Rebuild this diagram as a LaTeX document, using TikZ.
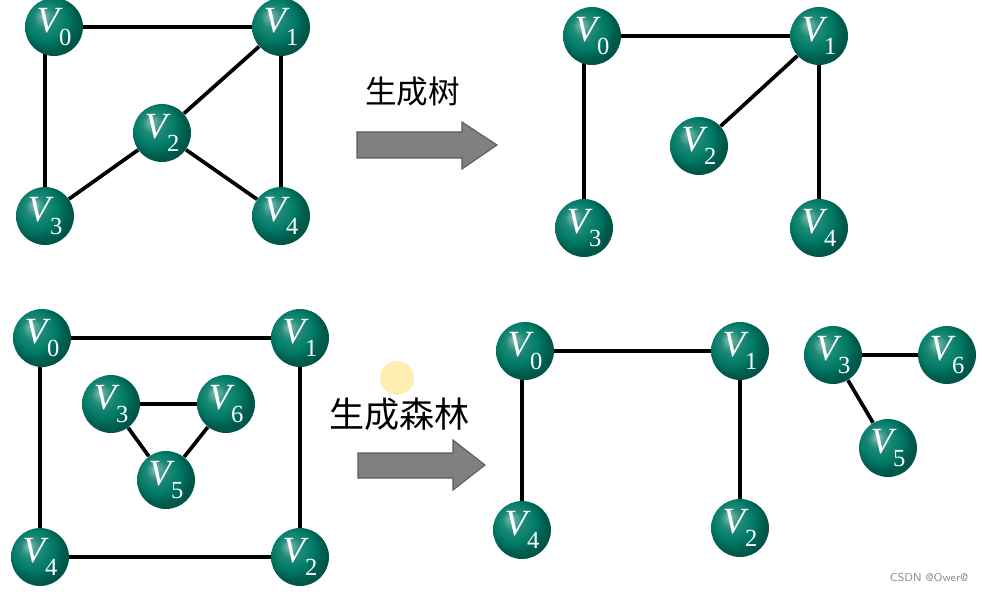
\documentclass[tikz,border=0pt]{standalone}
\usepackage{fontspec}
\setmainfont{Liberation Serif}
\newfontfamily\vfont{Liberation Serif}
\newfontfamily\cjk{Noto Sans CJK SC}
\usetikzlibrary{positioning}
\pgfdeclarelayer{bg}
\pgfsetlayers{bg,main}
\definecolor{vteal}{RGB}{0,122,102}
\definecolor{arrgray}{RGB}{128,128,128}
\pgfdeclareradialshading{vball}{\pgfpoint{-10bp}{10bp}}{%
  color(0bp)=(vteal!50!white); color(9bp)=(vteal!88!white);
  color(18bp)=(vteal); color(25bp)=(vteal!75!black); color(50bp)=(vteal!45!black)}
\newcommand{\vlab}[1]{{\vfont\fontsize{21}{21}\selectfont\itshape V}%
  \raisebox{-7.5pt}{\vfont\fontsize{14}{14}\selectfont #1}}

\begin{document}
\begin{tikzpicture}[
  x=0.02cm, y=-0.02cm,
  vtx/.style={circle, shading=vball, minimum size=1.16cm, inner sep=0pt,
              text=white},
  edge/.style={line width=2.1pt, black},
  bigarrow/.style={fill=arrgray, draw=arrgray!70!black, line width=0.6pt},
  lab/.style={font=\cjk, anchor=west},
]
  \useasboundingbox (0,0) rectangle (982,591);

  % graph -> spanning tree
  \node[vtx] (a0) at (54,27) {\vlab{0}};
  \node[vtx] (a1) at (281,27) {\vlab{1}};
  \node[vtx] (a2) at (162,133) {\vlab{2}};
  \node[vtx] (a3) at (45,216) {\vlab{3}};
  \node[vtx] (a4) at (281,216) {\vlab{4}};
  \begin{pgfonlayer}{bg}
    \draw[edge] (a0) -- (a1);
    \draw[edge] (a3) -- (a3 |- a0);
    \draw[edge] (a1) -- (a2);
    \draw[edge] (a1) -- (a4);
    \draw[edge] (a2) -- (a3);
    \draw[edge] (a2) -- (a4);
  \end{pgfonlayer}

  \node[lab, font=\cjk\fontsize{18}{18}\selectfont] (t1) at (359,92) {生成树};
  \draw[bigarrow] (357,132) -- (462,132) -- (462,122) -- (497,145)
    -- (462,169) -- (462,158) -- (357,158) -- cycle;

  \node[vtx] (b0) at (592,36) {\vlab{0}};
  \node[vtx] (b1) at (819,36) {\vlab{1}};
  \node[vtx] (b2) at (699,146) {\vlab{2}};
  \node[vtx] (b3) at (584,228) {\vlab{3}};
  \node[vtx] (b4) at (819,228) {\vlab{4}};
  \begin{pgfonlayer}{bg}
    \draw[edge] (b0) -- (b1);
    \draw[edge] (b3) -- (b3 |- b0);
    \draw[edge] (b1) -- (b2);
    \draw[edge] (b1) -- (b4);
  \end{pgfonlayer}

  % graph -> spanning forest
  \node[vtx] (c0) at (42,338) {\vlab{0}};
  \node[vtx] (c1) at (300,338) {\vlab{1}};
  \node[vtx] (c3) at (111,404) {\vlab{3}};
  \node[vtx] (c6) at (226,404) {\vlab{6}};
  \node[vtx] (c5) at (166,480) {\vlab{5}};
  \node[vtx] (c4) at (40,557) {\vlab{4}};
  \node[vtx] (c2) at (300,557) {\vlab{2}};
  \begin{pgfonlayer}{bg}
    \draw[edge] (c0) -- (c1);
    \draw[edge] (c4) -- (c4 |- c0);
    \draw[edge] (c1) -- (c2);
    \draw[edge] (c4) -- (c2);
    \draw[edge] (c3) -- (c6);
    \draw[edge] (c3) -- (c5);
    \draw[edge] (c6) -- (c5);
  \end{pgfonlayer}

  \fill[orange!45!yellow, opacity=0.3] (397,378) circle (17);
  \node[lab, font=\cjk\fontsize{20}{20}\selectfont] (t2) at (323,414) {生成森林};
  \draw[bigarrow] (358,453) -- (453,453) -- (453,440) -- (485,465)
    -- (453,490) -- (453,478) -- (358,478) -- cycle;

  \node[vtx] (d0) at (525,351) {\vlab{0}};
  \node[vtx] (d1) at (740,351) {\vlab{1}};
  \node[vtx] (d4) at (522,530) {\vlab{4}};
  \node[vtx] (d2) at (740,528) {\vlab{2}};
  \node[vtx] (d3) at (833,355) {\vlab{3}};
  \node[vtx] (d6) at (947,355) {\vlab{6}};
  \node[vtx] (d5) at (888,448) {\vlab{5}};
  \begin{pgfonlayer}{bg}
    \draw[edge] (d0) -- (d1);
    \draw[edge] (d4) -- (d4 |- d0);
    \draw[edge] (d1) -- (d2);
    \draw[edge] (d3) -- (d6);
    \draw[edge] (d3) -- (d5);
  \end{pgfonlayer}

  \node[font=\sffamily\fontsize{6.5}{6.5}\selectfont, text=black!45] (wm) at (929,578)
    {CSDN @Ower@};
\end{tikzpicture}
\end{document}
